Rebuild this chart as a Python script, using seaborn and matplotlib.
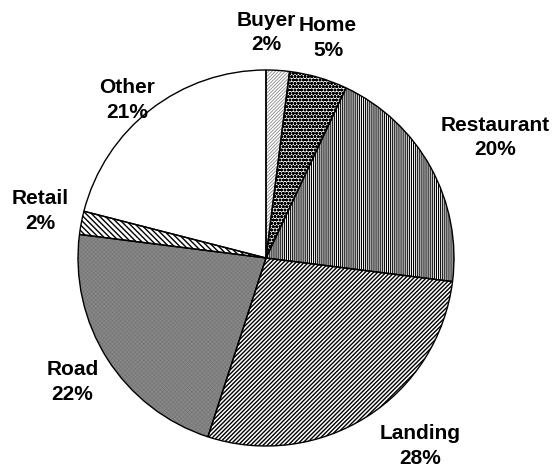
import matplotlib.pyplot as plt
import seaborn as sns

categories = ["Buyer", "Home", "Restaurant", "Landing", "Road", "Retail", "Other"]
shares = [2, 5, 20, 28, 22, 2, 21]

# wedge look: face colour, hatch, hatch colour, hatch line width
styles = {
    "Buyer": ("white", "//////////", "#8c8c8c", 0.6),
    "Home": ("white", "ooooo", "black", 1.0),
    "Restaurant": ("white", "||||||||", "black", 0.8),
    "Landing": ("white", "////////", "black", 1.0),
    "Road": ("#878787", "xxxxxxxx", "#757575", 0.4),
    "Retail": ("white", "\\\\\\\\\\\\", "black", 1.0),
    "Other": ("white", "", "white", 0.0),
}

# label centres, in units of the pie radius
label_pos = {
    "Buyer": (0.0, 1.2),
    "Home": (0.33, 1.17),
    "Restaurant": (1.22, 0.64),
    "Landing": (0.82, -1.0),
    "Road": (-1.03, -0.66),
    "Retail": (-1.2, 0.25),
    "Other": (-0.74, 0.84),
}

sns.set_theme(style="white")
plt.rcParams["font.family"] = ["Liberation Sans", "DejaVu Sans"]

fig = plt.figure(figsize=(5.55, 4.76), dpi=100)
ax = fig.add_axes([78 / 555, 30 / 476, 376 / 555, 376 / 476])

wedges, _ = ax.pie(
    shares,
    startangle=90,
    counterclock=False,
    colors=[styles[c][0] for c in categories],
    wedgeprops=dict(linewidth=0),
)
for wedge, name in zip(wedges, categories):
    face, hatch, hatch_color, hatch_lw = styles[name]
    wedge.set_hatch(hatch)
    wedge.set_edgecolor(hatch_color)
    if hasattr(wedge, "set_hatch_linewidth"):
        wedge.set_hatch_linewidth(hatch_lw)

# outlines on top
ax.pie(
    shares,
    startangle=90,
    counterclock=False,
    wedgeprops=dict(fill=False, edgecolor="black", linewidth=1.0),
)

for name, share in zip(categories, shares):
    x, y = label_pos[name]
    ax.text(x, y, f"{name}\n{share}%", ha="center", va="center",
            fontsize=15, fontweight="bold", color="black", linespacing=1.35)

ax.set_xlim(-1, 1)
ax.set_ylim(-1, 1)
ax.axis("off")

fig.savefig("out.png", dpi=100)
